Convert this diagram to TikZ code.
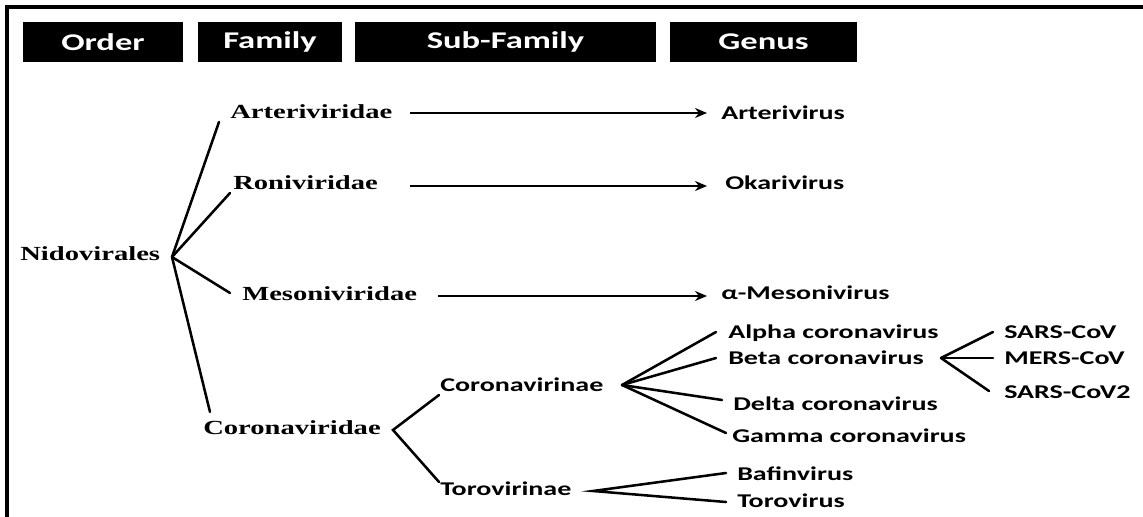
\documentclass[tikz,border=0pt]{standalone}
\usepackage{fontspec}
\usetikzlibrary{arrows.meta}
\newfontfamily\sansf{Carlito}[FakeStretch=1.44]
\newfontfamily\seriff{Liberation Serif}[FakeStretch=1.43]
\tikzset{
  hdr/.style={fill=black, text=white, inner sep=0pt, minimum height=30pt,
    font=\sansf\bfseries\fontsize{18pt}{20pt}\selectfont},
  fam/.style={anchor=base west, inner sep=0pt, font=\seriff\bfseries\fontsize{15pt}{17pt}\selectfont},
  gen/.style={anchor=base west, inner sep=0pt, font=\sansf\bfseries\fontsize{14.6pt}{16pt}\selectfont},
  branch/.style={line width=1.9pt, line cap=round},
  arr/.style={line width=1.9pt, -{Stealth[length=9pt,width=7.5pt]}},
  frame/.style={line width=3pt}
}
\begin{document}
\begin{tikzpicture}[x=0.75pt,y=-0.75pt]
\useasboundingbox (0,0) rectangle (1143,517);
\fill[white] (0,0) rectangle (1143,517);
% frame
\coordinate (fbl) at (7,517);
\coordinate (ftl) at (7,7);
\coordinate (ftr) at (1143,7);
\draw[frame] (fbl) -- (ftl) -- (ftr);
% headers
\node[hdr, minimum width=120pt] (hOrder) at (103,42) {Order};
\node[hdr, minimum width=108pt] (hFamily) at (270,42) {Family};
\node[hdr, minimum width=225.75pt] (hSub) at (505.5,42) {Sub-Family};
\node[hdr, minimum width=140.25pt] (hGenus) at (763.5,42) {Genus};
% serif family labels
\node[fam] (nido) at (20,260) {Nidovirales};
\node[fam] (arteri) at (230,118) {Arteriviridae};
\node[fam] (roni) at (233,190) {Roniviridae};
\node[fam] (meso) at (242,300) {Mesoniviridae};
\node[fam] (corvir) at (203,434) {Coronaviridae};
% sans labels
\node[gen] (arterivirus) at (721,119) {Arterivirus};
\node[gen] (okari) at (725,189) {Okarivirus};
\node[gen] (amesoni) at (721,299) {α-Mesonivirus};
\node[gen] (corinae) at (440,391) {Coronavirinae};
\node[gen] (torinae) at (440,495) {Torovirinae};
\node[gen] (alpha) at (728,338) {Alpha coronavirus};
\node[gen] (beta) at (728,364) {Beta coronavirus};
\node[gen] (delta) at (733,410) {Delta coronavirus};
\node[gen] (gamma) at (732,442) {Gamma coronavirus};
\node[gen] (sars) at (1004,338) {SARS-CoV};
\node[gen] (mers) at (1004,364) {MERS-CoV};
\node[gen] (sars2) at (1004,398) {SARS-CoV2};
\node[gen] (bafin) at (737,480) {Bafinvirus};
\node[gen] (toro) at (737,507) {Torovirus};
% branch points
\coordinate (nidoA) at (172,257);
\coordinate (eArteri) at (219,122);
\coordinate (eRoni) at (230,193);
\coordinate (eMeso) at (230,293);
\coordinate (eCorvir) at (210,412);
\draw[branch] (nidoA) -- (eArteri);
\draw[branch] (nidoA) -- (eRoni);
\draw[branch] (nidoA) -- (eMeso);
\draw[branch] (nidoA) -- (eCorvir);
% arrows
\coordinate (sA1) at (410,113); \coordinate (tA1) at (707,113);
\coordinate (sA2) at (410,186); \coordinate (tA2) at (707,186);
\coordinate (sA3) at (438,296); \coordinate (tA3) at (707,296);
\draw[arr] (sA1) -- (tA1);
\draw[arr] (sA2) -- (tA2);
\draw[arr] (sA3) -- (tA3);
% Coronaviridae bracket
\coordinate (cvA) at (393,430);
\coordinate (eCorinae) at (439,395);
\coordinate (eTorinae) at (439,482);
\draw[branch] (eCorinae) -- (cvA) -- (eTorinae);
% Coronavirinae bracket
\coordinate (ciA) at (622,385);
\coordinate (eAlpha) at (716,332);
\coordinate (eBeta) at (716,358);
\coordinate (eDelta) at (722,400);
\coordinate (eGamma) at (726,433);
\draw[branch] (ciA) -- (eAlpha);
\draw[branch] (ciA) -- (eBeta);
\draw[branch] (ciA) -- (eDelta);
\draw[branch] (ciA) -- (eGamma);
% Beta bracket
\coordinate (bA) at (941,358);
\coordinate (eSars) at (993,332);
\coordinate (eMers) at (993,358);
\coordinate (eSars2) at (989,391);
\draw[branch] (bA) -- (eSars);
\draw[branch] (bA) -- (eMers);
\draw[branch] (bA) -- (eSars2);
% Torovirinae bracket
\coordinate (tiA) at (593,491);
\coordinate (eBafin) at (726,473);
\coordinate (eToro) at (726,502);
\draw[branch] (eBafin) -- (tiA) -- (eToro);
\end{tikzpicture}
\end{document}
